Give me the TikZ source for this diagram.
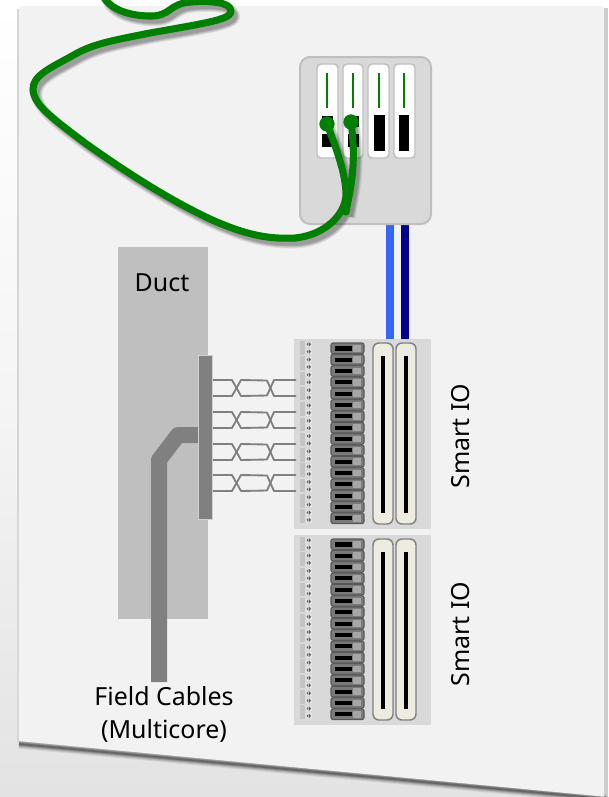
\documentclass[tikz,border=0pt]{standalone}
\usepackage{fontspec}
\setmainfont{Noto Sans}
\definecolor{panel}{HTML}{F2F2F2}
\definecolor{boxgray}{HTML}{D9D9D9}
\definecolor{boxedge}{HTML}{BFBFBF}
\definecolor{duct}{HTML}{BFBFBF}
\definecolor{cable}{HTML}{808080}
\definecolor{gwire}{HTML}{008000}
\definecolor{cart}{HTML}{EEECE1}
\definecolor{blueA}{HTML}{3366FF}
\definecolor{blueB}{HTML}{000099}
\tikzset{
  x=0.75pt,y=-0.75pt,
  lbl/.style={font=\fontsize{18.7pt}{24.75pt}\selectfont,text=black,align=center,inner sep=0pt},
  termbox/.style={draw=boxedge,line width=1.5pt,fill=boxgray,rounded corners=7.5pt},
  slotbox/.style={draw=boxedge,line width=1.1pt,fill=white,rounded corners=3pt},
  gbar/.style={draw=gwire,line width=1.9pt},
  blk/.style={fill=black,draw=none},
  gcable/.style={draw=gwire,line width=5.3pt,line cap=round,line join=round},
  pairline/.style={draw=cable,line width=1.4pt},
  cartbox/.style={draw=cable,line width=1.1pt,fill=cart,rounded corners=4.5pt},
  termrow/.style={draw=black!65,line width=.8pt,fill=black!52,rounded corners=1.5pt},
}
% the long green cable, without its fan-out
\newcommand{\gpath}{(103,-4) .. controls (108,6) and (122,15) .. (148,16)
  .. controls (172,17) and (168,3) .. (192,2) .. controls (207,1) and (232,1) .. (231,12)
  .. controls (230,20) and (200,24) .. (150,33) .. controls (110,41) and (92,44) .. (72,56)
  .. controls (50,68) and (32,76) .. (33,90) .. controls (34,105) and (52,118) .. (85,143)
  .. controls (130,175) and (170,200) .. (210,219) .. controls (250,237) and (272,239) .. (295,238)
  .. controls (325,235) and (345,215) .. (346,195)
  .. controls (346,175) and (337,150) .. (327,124)
  (346,212) .. controls (350,190) and (357,165) .. (351,122)}
\newcommand{\smartio}[2]{%
  \begin{scope}[yshift=#1*-0.75pt]
    \node[fill=boxgray,minimum width=102.75pt,minimum height=142.5pt,inner sep=0pt,anchor=north west] (#2) at (294,339) {};
    \foreach \i in {0,...,11}{
      \fill[black!23] (300,{341+15.3*\i}) rectangle (305,{354.5+15.3*\i});
      \foreach \d in {0,7.4}{
        \fill[black!10] (306,{341.5+15.3*\i+\d}) rectangle (311.5,{347+15.3*\i+\d});
        \fill[black!62] (308.4,{342.2+15.3*\i+\d}) -- (306.6,{344.2+15.3*\i+\d}) -- (308.4,{346.3+15.3*\i+\d}) -- cycle;
        \fill[black!62] (309.2,{342.2+15.3*\i+\d}) -- (311,{344.2+15.3*\i+\d}) -- (309.2,{346.3+15.3*\i+\d}) -- cycle;
      }
    }
    \foreach \i in {0,...,15}{
      \draw[termrow] (331,{343+11.33*\i}) rectangle (364,{353.6+11.33*\i});
      \fill[black] (335,{346.3+11.33*\i}) rectangle (352,{350.5+11.33*\i});
      \fill[black!35] (353,{345+11.33*\i}) rectangle (361,{351.8+11.33*\i});
    }
    \draw[cartbox] (373,343) rectangle (393,524);
    \fill[black] (381,356) rectangle (385,513);
    \draw[cartbox] (396,343) rectangle (416,524);
    \fill[black] (404,356) rectangle (408,513);
  \end{scope}}
\begin{document}
\begin{tikzpicture}
\useasboundingbox (0,0) rectangle (608,797);
\shade[top color=white,bottom color=black!11,middle color=black!4] (0,0) rectangle (608,797);
% panel shadow
\fill[black!20] (604,8) rectangle (608,797);
\draw[black!16,line width=1.6pt] (18.5,9) -- (18.5,742);
\foreach \w/\o in {7/.08,5.5/.10,4/.14,2.6/.18,1.4/.22}{
  \draw[black,opacity=\o,line width=\w pt] (19,744) -- (606,799);
}
\path[fill=panel] (21,6) -- (602,6) -- (604,8) -- (604,796.6) -- (19,741) -- (19,9) -- cycle;
% field wiring
\coordinate (bluetop) at (390,224);
\coordinate (bluebot) at (390,339);
\coordinate (navytop) at (405,224);
\coordinate (navybot) at (405,339);
\draw[blueA,line width=6pt] (bluetop) -- (bluebot);
\draw[blueB,line width=6pt] (navytop) -- (navybot);
% terminal block
\draw[termbox] (300,57) rectangle (431,224);
\foreach \xa/\xb in {317/338,343/363,368/389,394/415}{
  \draw[slotbox] (\xa,64) rectangle (\xb,158);
}
\foreach \xa in {327,353,379,404}{ \draw[gbar] (\xa,73) -- (\xa,108); }
\fill[blk] (322,116) rectangle (333,127);
\fill[blk] (322,134) rectangle (333,147);
\fill[blk] (348,116) rectangle (359,127);
\fill[blk] (348,134) rectangle (359,147);
\fill[blk] (374,115) rectangle (385,151);
\fill[blk] (399,115) rectangle (409,151);
% duct
\node[fill=duct,minimum width=67.5pt,minimum height=279pt,inner sep=0pt,anchor=north west] (ductbox) at (118,247) {};
\node[lbl] (ductlabel) at (162,283) {Duct};
% IO modules
\smartio{0}{ioA}
\smartio{196}{ioB}
% multicore
\coordinate (mcbot) at (159,682);
\coordinate (mcbendA) at (159,460);
\coordinate (mcbendB) at (178,435);
\coordinate (mctop) at (199,435);
\draw[cable,line width=12pt,line join=round] (mcbot) -- (mcbendA) -- (mcbendB) -- (mctop);
% twisted pairs
\foreach \u/\v in {380/396,412/428,444/460,475/491}{
  \coordinate (pa) at (212,\u); \coordinate (pb) at (212,\v);
  \coordinate (qa) at (296,\u); \coordinate (qb) at (296,\v);
  \draw[pairline,line join=round] (pa) -- (232,\u) -- (241,\v) -- (267,{\v-.5}) -- (274,\u) -- (qa);
  \draw[pairline,line join=round] (pb) -- (232,\v) -- (241,\u) -- (267,{\u+.5}) -- (274,\v) -- (qb);
}
% marshalling plate
\node[draw=black!18,line width=.9pt,fill=cable,minimum width=11pt,minimum height=123.5pt,inner sep=0pt,anchor=north west] (plate) at (197.6,354.5) {};
% labels
\node[lbl,rotate=90] (ioAl) at (461,436) {Smart IO};
\node[lbl,rotate=90] (ioBl) at (461,634) {Smart IO};
\node[lbl] (fieldl) at (164,714) {Field Cables\\(Multicore)};
% green cable with shadow
\begin{scope}[shift={(4,5)}]
  \foreach \w/\o in {8/.07,6.6/.09,5.2/.11,3.8/.13}{
    \draw[black,opacity=\o,line width=\w pt,line join=round] \gpath;
  }
\end{scope}
\draw[gcable] \gpath;
\node[circle,fill=gwire,minimum size=11.5pt,inner sep=0pt] (dotA) at (327,124) {};
\node[circle,fill=gwire,minimum size=11.5pt,inner sep=0pt] (dotB) at (351,122) {};
\end{tikzpicture}
\end{document}
